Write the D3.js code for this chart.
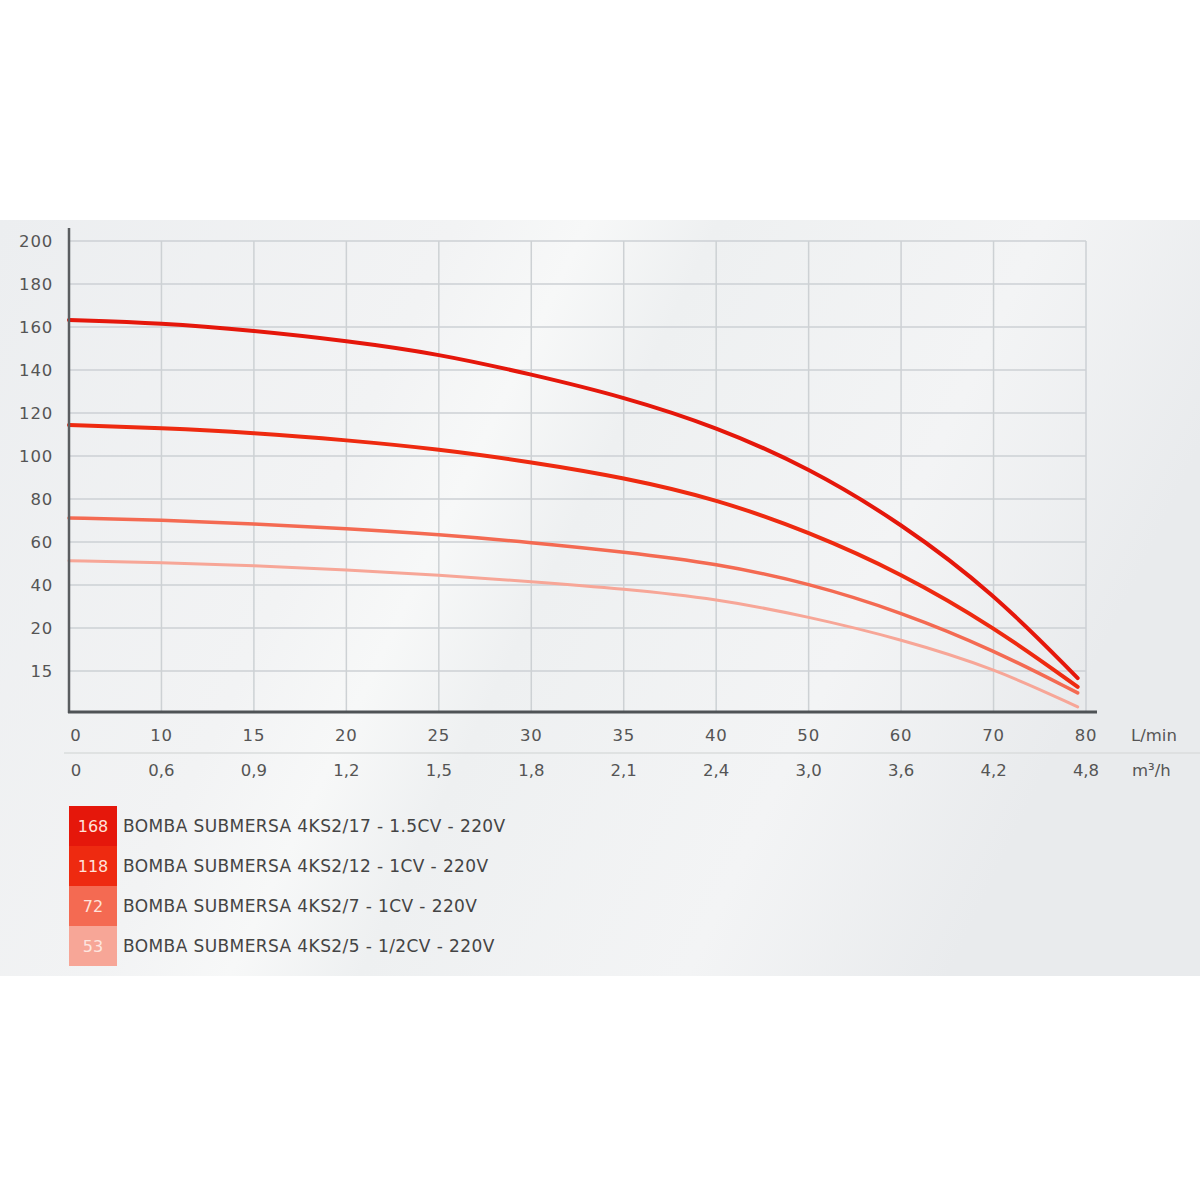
<!DOCTYPE html>
<html>
<head>
<meta charset="utf-8">
<script src="https://cdn.jsdelivr.net/npm/d3@7/dist/d3.min.js"></script>
<style>
  html, body { margin: 0; padding: 0; background: #ffffff; }
  svg { display: block; }
  text { font-family: "DejaVu Sans", "Lato", sans-serif; }
</style>
</head>
<body>
<svg id="chart" width="1200" height="1200"></svg>
<script>
// ---- data ----
const xLpmLabels = ["0","10","15","20","25","30","35","40","50","60","70","80"];
const xM3hLabels = ["0","0,6","0,9","1,2","1,5","1,8","2,1","2,4","3,0","3,6","4,2","4,8"];
const yTickPos = [0,20,40,60,80,100,120,140,160,180,200];
const yTickLabels = ["15","20","40","60","80","100","120","140","160","180","200"];
// x positions along the (index-spaced) flow axis
const xIdx = [0,1,2,3,4,5,6,7,8,9,10,10.91];
const series168 = [163.3,161.9,158.3,153.6,147.5,138.0,127.5,113.6,94.6,68.8,36.3,-3.3];
const series118 = [114.4,113.0,110.8,107.4,103.2,97.2,90.0,80.0,64.8,45.5,20.6,-7.4];
const series72  = [71.2,70.2,68.4,66.2,63.5,59.8,55.4,50.0,40.9,27.4,9.8,-10.2];
const series53  = [51.3,50.4,49.0,47.0,44.7,41.6,38.2,33.6,25.3,14.8,1.4,-16.7];
const legendCodes = ["168","118","72","53"];
const legendNames = [
  "BOMBA SUBMERSA 4KS2/17 - 1.5CV - 220V",
  "BOMBA SUBMERSA 4KS2/12 - 1CV - 220V",
  "BOMBA SUBMERSA 4KS2/7 - 1CV - 220V",
  "BOMBA SUBMERSA 4KS2/5 - 1/2CV - 220V"
];
const seriesColors = ["#e5170b","#ee2a10","#f46a52","#f7a697"];
const seriesWidths = [4, 4, 3.5, 3];
const allSeries = [series168, series118, series72, series53];

// ---- layout ----
const svg = d3.select("#chart");
const defs = svg.append("defs");

const bg = defs.append("linearGradient").attr("id","bg")
  .attr("x1","0%").attr("y1","0%").attr("x2","100%").attr("y2","30%");
bg.append("stop").attr("offset","0%").attr("stop-color","#eceef0");
bg.append("stop").attr("offset","35%").attr("stop-color","#f2f3f4");
bg.append("stop").attr("offset","45%").attr("stop-color","#f7f8f8");
bg.append("stop").attr("offset","55%").attr("stop-color","#eef0f1");
bg.append("stop").attr("offset","80%").attr("stop-color","#f3f4f5");
bg.append("stop").attr("offset","100%").attr("stop-color","#e9ebed");

svg.append("rect").attr("x",0).attr("y",220).attr("width",1200).attr("height",756)
  .attr("fill","url(#bg)");

const plotLeft = 69, plotRight = 1086, plotTop = 241, plotBottom = 712;
const x = d3.scaleLinear().domain([0, 11]).range([plotLeft, plotRight]);
const y = d3.scaleLinear().domain([0, 200]).range([671, 241]);

// grid
const g = svg.append("g");
g.append("g").selectAll("line").data(yTickPos).join("line")
  .attr("x1", plotLeft).attr("x2", plotRight)
  .attr("y1", d => y(d)).attr("y2", d => y(d))
  .attr("stroke","#cdd1d4").attr("stroke-width",1.5);
g.append("g").selectAll("line").data(d3.range(1, 12)).join("line")
  .attr("x1", d => x(d)).attr("x2", d => x(d))
  .attr("y1", plotTop).attr("y2", plotBottom)
  .attr("stroke","#cdd1d4").attr("stroke-width",1.5);

const axisFont = 16.5;
// y labels
svg.append("g").selectAll("text").data(yTickPos).join("text")
  .attr("x", 53).attr("y", d => y(d)).attr("dy","0.36em")
  .attr("text-anchor","end").attr("font-size",axisFont).attr("fill","#555")
  .attr("letter-spacing","0.8")
  .text((d,i) => yTickLabels[i]);

// separator line between x rows
svg.append("line").attr("x1",64).attr("x2",1200).attr("y1",753).attr("y2",753)
  .attr("stroke","#dadcdd").attr("stroke-width",1.5);

// x labels
svg.append("g").selectAll("text").data(xLpmLabels).join("text")
  .attr("x", (d,i) => x(i) + (i === 0 ? 7 : 0)).attr("y", 741)
  .attr("text-anchor","middle").attr("font-size",axisFont).attr("fill","#555")
  .attr("letter-spacing","0.8")
  .text(d => d);
svg.append("g").selectAll("text").data(xM3hLabels).join("text")
  .attr("x", (d,i) => x(i) + (i === 0 ? 7 : 0)).attr("y", 776)
  .attr("text-anchor","middle").attr("font-size",axisFont).attr("fill","#555")
  .text(d => d);
svg.append("text").attr("x",1131).attr("y",741).attr("font-size",axisFont).attr("fill","#555").text("L/min");
svg.append("text").attr("x",1132).attr("y",776).attr("font-size",axisFont).attr("fill","#555").text("m³/h");

// curves
const line = d3.line().x(d => x(d[0])).y(d => y(d[1])).curve(d3.curveBasis);
svg.append("g").selectAll("path").data(allSeries.slice().reverse()).join("path")
  .attr("d", s => line(s.map((v,i) => [xIdx[i], v])))
  .attr("fill","none")
  .attr("stroke", (s,i) => seriesColors[3 - i])
  .attr("stroke-width", (s,i) => seriesWidths[3 - i])
  .attr("stroke-linecap","round");

// axes lines
svg.append("line").attr("x1",plotLeft).attr("x2",plotLeft).attr("y1",228).attr("y2",plotBottom + 1)
  .attr("stroke","#5a5d60").attr("stroke-width",2.5);
svg.append("line").attr("x1",plotLeft - 1).attr("x2",1097).attr("y1",plotBottom).attr("y2",plotBottom)
  .attr("stroke","#4f5356").attr("stroke-width",3);

// legend
const legendTop = 806, rowH = 40;
const lg = svg.append("g");
lg.selectAll("rect").data(legendCodes).join("rect")
  .attr("x", 69).attr("y", (d,i) => legendTop + i*rowH)
  .attr("width", 48).attr("height", rowH)
  .attr("fill", (d,i) => seriesColors[i]);
lg.selectAll("text.code").data(legendCodes).join("text").attr("class","code")
  .attr("x", 93).attr("y", (d,i) => legendTop + i*rowH + rowH/2).attr("dy","0.36em")
  .attr("text-anchor","middle").attr("font-size",16)
  .attr("fill", (d,i) => i < 3 ? "#ffe2da" : "#fde6e0")
  .text(d => d);
lg.selectAll("text.name").data(legendNames).join("text").attr("class","name")
  .attr("x", 123).attr("y", (d,i) => legendTop + i*rowH + rowH/2).attr("dy","0.36em")
  .attr("font-size",17).attr("fill","#444").attr("letter-spacing","0.4")
  .text(d => d);
</script>
</body>
</html>
